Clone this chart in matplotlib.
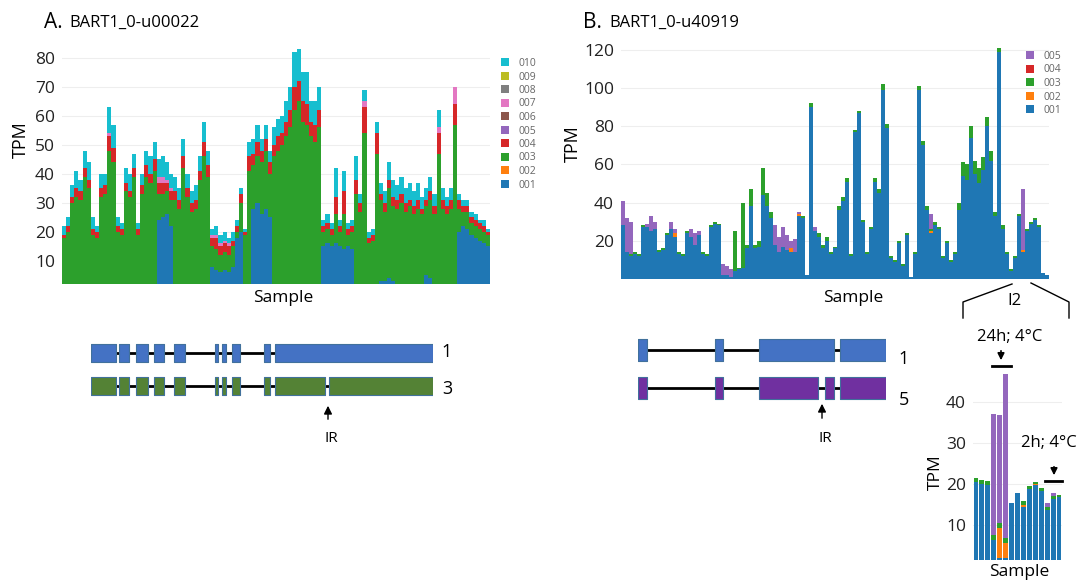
import numpy as np
import matplotlib
matplotlib.use('Agg')
import matplotlib.pyplot as plt
from matplotlib.patches import Patch

plt.rcParams['font.family'] = ['Open Sans', 'DejaVu Sans']

W, H = 1086, 580

# plotly default colours for the transcript ids
colors = {'001': '#1f77b4', '002': '#ff7f0e', '003': '#2ca02c', '004': '#d62728',
          '005': '#9467bd', '006': '#8c564b', '007': '#e377c2', '008': '#7f7f7f',
          '009': '#bcbd22', '010': '#17becf'}

# ---------------- panel A : BART1_0-u00022 ----------------
a001 = [0, 0, 0, 0, 0, 0, 0, 0, 0, 0, 0, 0, 0, 0, 0, 0, 0, 0, 0, 0,
        0, 0, 0, 24, 25, 26, 22, 0, 0, 0, 0, 0, 0, 0, 0, 0, 8, 7, 6, 7,
        6, 8, 18, 20, 0, 0, 28, 30, 26, 28, 25, 0, 0, 0, 0, 0, 0, 0, 0, 0,
        0, 0, 0, 15, 16, 15, 16, 15, 14, 15, 14, 0, 0, 0, 0, 0, 0, 3, 3, 4,
        3, 0, 0, 0, 0, 0, 0, 0, 5, 4, 0, 0, 0, 0, 0, 0, 20, 22, 21, 19,
        18, 17, 16, 15]
a003 = [18, 20, 30, 32, 31, 39, 35, 19, 18, 32, 33, 48, 44, 20, 19, 34, 32, 39, 19, 33,
        39, 37, 41, 9, 8, 8, 9, 31, 28, 42, 32, 27, 28, 38, 46, 39, 7, 7, 6, 6,
        6, 7, 2, 10, 19, 41, 15, 16, 18, 20, 15, 46, 48, 50, 53, 56, 62, 65, 58, 57,
        53, 51, 56, 5, 5, 4, 10, 5, 12, 4, 6, 33, 27, 54, 16, 17, 47, 28, 24, 31,
        26, 28, 30, 27, 29, 26, 28, 26, 24, 27, 26, 47, 28, 26, 28, 57, 8, 5, 6, 4,
        4, 4, 4, 4]
a004 = [1, 2, 2, 3, 3, 3, 3, 2, 2, 3, 3, 5, 5, 2, 2, 3, 2, 3, 2, 3,
        4, 3, 4, 4, 4, 3, 3, 3, 3, 4, 3, 3, 3, 3, 5, 4, 3, 4, 3, 3,
        3, 2, 2, 3, 1, 5, 4, 5, 4, 4, 4, 4, 5, 4, 5, 6, 8, 7, 7, 7,
        5, 6, 6, 2, 2, 2, 6, 2, 8, 2, 2, 5, 3, 9, 2, 2, 7, 2, 3, 3,
        3, 3, 3, 3, 2, 3, 3, 2, 2, 3, 3, 7, 3, 3, 3, 7, 3, 2, 2, 2,
        2, 2, 2, 1]
a007 = [0, 0, 0, 0, 0, 0, 0, 0, 0, 0, 0, 1, 0, 0, 0, 0, 0, 0, 0, 0,
        0, 0, 0, 2, 2, 1, 1, 0, 0, 0, 0, 0, 0, 0, 0, 0, 1, 1, 1, 1,
        1, 0, 0, 0, 0, 0, 0, 0, 0, 0, 0, 0, 0, 0, 0, 0, 0, 0, 0, 0,
        0, 0, 0, 0, 0, 0, 0, 0, 0, 0, 0, 0, 0, 2, 0, 0, 0, 0, 0, 0,
        0, 0, 0, 0, 0, 0, 0, 0, 0, 0, 0, 2, 0, 0, 0, 6, 0, 0, 0, 0,
        0, 0, 0, 0]
a010 = [3, 3, 4, 6, 4, 6, 6, 4, 2, 5, 4, 9, 8, 3, 2, 5, 6, 5, 2, 4,
        5, 6, 6, 6, 7, 6, 5, 5, 4, 6, 5, 4, 5, 5, 7, 5, 2, 3, 3, 3,
        2, 3, 2, 2, 1, 5, 5, 6, 4, 5, 4, 6, 6, 6, 7, 8, 12, 11, 10, 11,
        7, 8, 8, 2, 3, 2, 10, 2, 7, 2, 2, 8, 3, 4, 2, 2, 4, 4, 4, 6,
        6, 5, 6, 5, 6, 5, 6, 4, 4, 5, 4, 6, 4, 3, 4, 0, 2, 2, 2, 2,
        2, 1, 2, 1]
legend_a = ['001', '002', '003', '004', '005', '006', '007', '008', '009', '010']

# ---------------- panel B : BART1_0-u40919 ----------------
b001 = [28, 14, 12, 13, 12, 27, 27, 25, 26, 14, 15, 23, 26, 22, 13, 12, 24, 22, 18, 23,
        13, 12, 27, 29, 28, 2, 2, 1, 4, 5, 6, 16, 38, 16, 17, 44, 38, 32, 18, 14,
        17, 15, 14, 14, 33, 32, 2, 90, 25, 22, 16, 20, 13, 16, 36, 41, 51, 12, 77, 87,
        30, 13, 26, 51, 45, 99, 79, 11, 9, 19, 7, 23, 1, 13, 99, 70, 36, 24, 28, 26,
        11, 19, 9, 13, 36, 54, 52, 74, 55, 50, 57, 80, 62, 33, 119, 26, 13, 4, 11, 33,
        14, 25, 29, 31, 27, 3, 2]
b002 = [0, 0, 0, 0, 0, 0, 0, 0, 0, 0, 0, 0, 0, 2, 0, 0, 0, 0, 0, 0,
        0, 0, 0, 0, 0, 0, 0, 0, 0, 0, 0, 0, 0, 0, 0, 0, 0, 0, 0, 0,
        0, 0, 2, 0, 1, 0, 0, 0, 0, 0, 0, 0, 0, 0, 0, 0, 0, 0, 0, 0,
        0, 0, 0, 0, 0, 0, 0, 0, 0, 0, 0, 0, 0, 0, 0, 0, 0, 1, 0, 0,
        0, 0, 0, 0, 0, 0, 0, 0, 0, 0, 0, 0, 0, 0, 0, 0, 0, 0, 0, 0,
        1, 0, 0, 0, 0, 0, 0]
b003 = [0, 0, 1, 1, 1, 1, 0, 0, 0, 1, 1, 1, 0, 0, 1, 1, 1, 0, 0, 0,
        1, 1, 1, 1, 1, 0, 0, 0, 21, 1, 34, 2, 9, 2, 3, 14, 7, 3, 0, 0,
        0, 0, 0, 0, 0, 1, 0, 2, 0, 2, 2, 2, 1, 1, 2, 2, 2, 1, 1, 1,
        1, 1, 1, 2, 2, 3, 2, 1, 1, 1, 1, 1, 0, 1, 2, 2, 2, 1, 2, 1,
        1, 1, 1, 1, 4, 7, 8, 6, 7, 8, 7, 5, 5, 2, 2, 2, 1, 1, 1, 1,
        0, 1, 1, 1, 1, 0, 0]
b005 = [13, 18, 17, 0, 0, 0, 2, 8, 4, 0, 0, 0, 4, 2, 0, 0, 0, 4, 6, 2,
        0, 0, 0, 0, 0, 6, 5, 4, 0, 0, 0, 0, 0, 0, 0, 0, 0, 0, 10, 8,
        10, 8, 4, 7, 1, 0, 0, 0, 2, 0, 0, 0, 0, 0, 0, 0, 0, 0, 0, 0,
        0, 0, 0, 0, 0, 0, 0, 0, 0, 0, 0, 0, 0, 0, 0, 0, 0, 8, 0, 0,
        0, 0, 0, 0, 0, 0, 0, 0, 0, 0, 0, 0, 0, 0, 0, 0, 0, 0, 0, 0,
        32, 0, 0, 0, 0, 0, 0]
legend_b = ['001', '002', '003', '004', '005']

# ---------------- inset : I2 samples ----------------
i001 = [20.4, 19.9, 19.7, 6.4, 2.0, 2.0, 15.5, 17.7, 14.5, 18.9, 19.8, 18.4, 13.8, 16.3, 16.8]
i002 = [0, 0, 0, 0, 7.2, 3.6, 0, 0, 0.5, 0, 0.3, 0, 0, 0, 0]
i003 = [1.0, 1.0, 1.0, 1.2, 1.2, 1.2, 0, 0, 0.9, 0.6, 0.5, 0.6, 0.7, 0.8, 0.6]
i005 = [0, 0, 0, 29.4, 26.4, 40.0, 0, 0, 0, 0, 0, 0, 1.0, 0.6, 0]

# ---------------- gene models (relative positions) ----------------
geneA_iso1 = [(0, 26), (29, 39), (46, 58), (64, 74), (84, 95), (125, 128), (132, 136),
              (142, 150), (174, 180), (185, 343)]
geneA_iso3 = [(0, 26), (29, 39), (46, 58), (64, 74), (84, 95), (125, 128), (132, 136),
              (142, 150), (174, 180), (185, 235), (239, 343)]
geneB_iso1 = [(0, 9), (77, 85), (121, 196), (202, 248)]
geneB_iso5 = [(0, 9), (77, 85), (121, 180), (187, 196), (202, 248)]


fig = plt.figure(figsize=(W / 100, H / 100), dpi=100)


def box(x0, y0, x1, y1):
    return [x0 / W, 1 - y1 / H, (x1 - x0) / W, (y1 - y0) / H]


def fx(x):
    return x / W


def fy(y):
    return 1 - y / H


def stacked(ax, series, width=1.0):
    x = np.arange(len(series[0][1]))
    bottom = np.zeros(len(x))
    for key, vals in series:
        vals = np.array(vals, dtype=float)
        ax.bar(x, vals, width=width, bottom=bottom, color=colors[key], linewidth=0)
        bottom += vals
    return x


def style(ax, ticks, fs=12.5):
    for s in ax.spines.values():
        s.set_visible(False)
    ax.set_facecolor('none')
    ax.set_yticks(ticks)
    ax.tick_params(axis='y', length=0, pad=5, labelsize=fs, labelcolor='#222222')
    ax.set_xticks([])
    ax.yaxis.grid(True, color='#eeeeee', linewidth=0.8)
    ax.set_axisbelow(True)


leg_kw = dict(bbox_transform=fig.transFigure, frameon=False, fontsize=7.5, labelcolor='#666666',
              handlelength=0.8, handleheight=0.8, handletextpad=0.9, labelspacing=0.24,
              borderpad=0, borderaxespad=0, loc='upper left')

# panel A
axA = fig.add_axes(box(62, 42, 490, 284))
xA = stacked(axA, [('001', a001), ('003', a003), ('004', a004), ('007', a007), ('010', a010)])
axA.set_xlim(-0.5, len(xA) - 0.5)
axA.set_ylim(2, 85.5)
style(axA, [10, 20, 30, 40, 50, 60, 70, 80])
hA = [Patch(facecolor=colors[k]) for k in legend_a[::-1]]
axA.legend(hA, legend_a[::-1], bbox_to_anchor=(fx(501), fy(58)), **leg_kw)

# panel B
axB = fig.add_axes(box(621, 42, 1049, 279))
xB = stacked(axB, [('001', b001), ('002', b002), ('003', b003), ('005', b005)])
axB.set_xlim(-0.5, len(xB) - 0.5)
axB.set_ylim(0, 124)
style(axB, [20, 40, 60, 80, 100, 120])
hB = [Patch(facecolor=colors[k]) for k in legend_b[::-1]]
axB.legend(hB, legend_b[::-1], bbox_to_anchor=(fx(1026), fy(51)), **leg_kw)

# inset
axI = fig.add_axes(box(973, 365, 1062, 560))
xI = stacked(axI, [('001', i001), ('002', i002), ('003', i003), ('005', i005)], width=0.82)
axI.set_xlim(-0.5, len(xI) - 0.5)
axI.set_ylim(1.5, 49)
style(axI, [10, 20, 30, 40])


# gene models
def gene(ax, rows, fills):
    for r, (exons, fc) in enumerate(zip(rows, fills)):
        y = len(rows) - 1 - r
        ax.plot([exons[0][0], exons[-1][1]], [y, y], color='black', lw=2, zorder=1)
        ax.broken_barh([(s, e - s) for s, e in exons], (y - 0.28, 0.56),
                       facecolors=fc, edgecolors='#41719c', linewidth=0.8, zorder=2)
    ax.set_ylim(-0.6, len(rows) - 0.4)
    ax.axis('off')


gA = fig.add_axes(box(90.5, 333, 433, 406))
gene(gA, [geneA_iso1, geneA_iso3], ['#4472c4', '#548235'])
gA.set_xlim(0, 343)
gB = fig.add_axes(box(638, 327, 886, 411))
gene(gB, [geneB_iso1, geneB_iso5], ['#4472c4', '#7030a0'])
gB.set_xlim(0, 248)

# overlay for annotations (drawn last)
ov = fig.add_axes([0, 0, 1, 1])
ov.set_xlim(0, W)
ov.set_ylim(H, 0)
ov.axis('off')

# titles and axis labels
ov.text(44, 22, 'A.', fontsize=15, va='center', ha='left')
ov.text(69, 23, 'BART1_0-u00022', fontsize=12, va='center', ha='left')
ov.text(583, 22, 'B.', fontsize=15, va='center', ha='left')
ov.text(609, 23, 'BART1_0-u40919', fontsize=12, va='center', ha='left')
ov.text(21, 140, 'TPM', fontsize=13, rotation=90, va='center', ha='center')
ov.text(573, 144, 'TPM', fontsize=13, rotation=90, va='center', ha='center')
ov.text(936, 472, 'TPM', fontsize=12.5, rotation=90, va='center', ha='center')
ov.text(283, 298, 'Sample', fontsize=12.5, va='center', ha='center')
ov.text(853, 298, 'Sample', fontsize=12.5, va='center', ha='center')
ov.text(1019, 572, 'Sample', fontsize=12.5, va='center', ha='center')

# I2 bracket
ov.plot([1012, 963, 963], [284, 302, 318], color='black', lw=1)
ov.plot([1031, 1069, 1069], [283, 302, 318], color='black', lw=1)
ov.text(1014, 301, 'I2', fontsize=12, ha='center', va='center')

# cold treatment marks
ov.text(1010, 337, '24h; 4°C', fontsize=12, ha='center', va='center')
ov.annotate('', xy=(1001, 363), xytext=(1001, 348),
            arrowprops=dict(arrowstyle='-|>', color='black', lw=1.2, mutation_scale=10))
ov.plot([992, 1011], [366, 366], color='black', lw=2)
ov.text(1049, 443, '2h; 4°C', fontsize=12, ha='center', va='center')
ov.annotate('', xy=(1054, 478), xytext=(1054, 464),
            arrowprops=dict(arrowstyle='-|>', color='black', lw=1.2, mutation_scale=10))
ov.plot([1045, 1062], [481, 481], color='black', lw=2)

# isoform numbers and intron retention marks
ov.text(447, 352, '1', fontsize=13, ha='center', va='center')
ov.text(447, 389, '3', fontsize=13, ha='center', va='center')
ov.text(904, 359, '1', fontsize=13, ha='center', va='center')
ov.text(904, 400, '5', fontsize=13, ha='center', va='center')
ov.annotate('', xy=(328, 403), xytext=(328, 422),
            arrowprops=dict(arrowstyle='-|>', color='black', lw=1, mutation_scale=12))
ov.text(331, 438, 'IR', fontsize=11, ha='center', va='center')
ov.annotate('', xy=(822, 401), xytext=(822, 421),
            arrowprops=dict(arrowstyle='-|>', color='black', lw=1, mutation_scale=12))
ov.text(825, 438, 'IR', fontsize=11, ha='center', va='center')

fig.savefig('out.png', dpi=100)
